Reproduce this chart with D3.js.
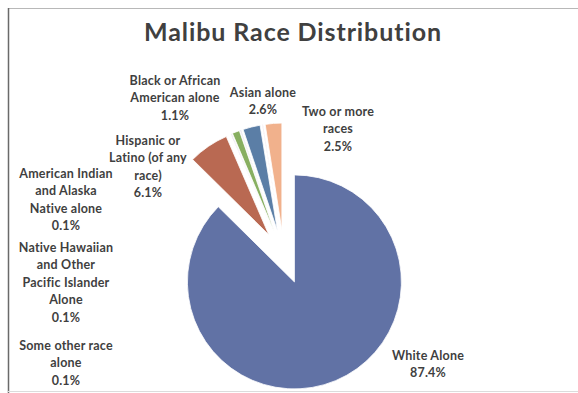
<!DOCTYPE html>
<html>
<head>
<meta charset="utf-8">
<script src="https://cdn.jsdelivr.net/npm/d3@7"></script>
<style>
  html, body { margin: 0; padding: 0; background: #fff; }
  svg { display: block; }
  text { font-family: Lato, "Noto Sans", sans-serif; font-weight: 700; fill: #3f3f3f; }
</style>
</head>
<body>
<svg id="chart" width="578" height="393"></svg>
<script>
// Race categories in drawing order (clockwise from 12 o'clock)
const categories = [
  "White Alone",
  "Hispanic or Latino (of any race)",
  "Some other race alone",
  "Black or African American alone",
  "American Indian and Alaska Native alone",
  "Asian alone",
  "Native Hawaiian and Other Pacific Islander Alone",
  "Two or more races"
];
// Share of population, percent
const values = [87.4, 6.1, 0.1, 1.1, 0.1, 2.6, 0.1, 2.5];
// Label line breaks for each category
const labelLines = [
  ["White Alone"],
  ["Hispanic or", "Latino (of any", "race)"],
  ["Some other race", "alone"],
  ["Black or African", "American alone"],
  ["American Indian", "and Alaska", "Native alone"],
  ["Asian alone"],
  ["Native Hawaiian", "and Other", "Pacific Islander", "Alone"],
  ["Two or more", "races"]
];
const title = "Malibu Race Distribution";

// Slice fills
const colors = ["#6172a5", "#b96952", "#9a86b4", "#88af61", "#8a78a8", "#5b7ea6", "#c79bb0", "#f1b18c"];

// Label anchors (centre x, middle of first line)
const labelPos = [
  [428, 355], [148, 140], [66, 345], [175, 80],
  [66, 173], [263, 92], [66, 247], [338, 111]
];

const svg = d3.select("#chart");
const W = 578, H = 393;

// Frame lines
svg.append("line").attr("x1", 8).attr("x2", W).attr("y1", 8.5).attr("y2", 8.5)
  .attr("stroke", "#b8b8b8").attr("stroke-width", 1);
svg.append("line").attr("x1", 8.5).attr("x2", 8.5).attr("y1", 8).attr("y2", H)
  .attr("stroke", "#6a6a6a").attr("stroke-width", 1.5);
svg.append("line").attr("x1", 8).attr("x2", W).attr("y1", 391.5).attr("y2", 391.5)
  .attr("stroke", "#dcdcdc").attr("stroke-width", 1);

// Title
svg.append("text")
  .attr("x", 293).attr("y", 31)
  .attr("text-anchor", "middle").attr("dominant-baseline", "central")
  .style("font-size", "25px").style("letter-spacing", "0.9px").style("fill", "#404040")
  .text(title);

// Exploded pie
const cx = 284, cy = 257, R = 107, explode = 27;
const pie = d3.pie().sort(null).startAngle(0).endAngle(2 * Math.PI);
const arc = d3.arc().innerRadius(0).outerRadius(R);
const arcs = pie(values);

const g = svg.append("g").attr("transform", `translate(${cx},${cy})`);
g.selectAll("path")
  .data(arcs)
  .join("path")
  .attr("d", arc)
  .attr("fill", (d, i) => colors[i])
  .attr("stroke", "#fff")
  .attr("stroke-width", 0.8)
  .attr("transform", d => {
    const a = (d.startAngle + d.endAngle) / 2;
    return `translate(${explode * Math.sin(a)},${-explode * Math.cos(a)})`;
  });

// Data labels
const fmt = d3.format(".1f");
const lh = 17.5;
categories.forEach((c, i) => {
  const lines = labelLines[i].concat([fmt(values[i]) + "%"]);
  const t = svg.append("text")
    .attr("text-anchor", "middle")
    .style("font-size", "12.5px")
    .style("letter-spacing", "0.2px");
  lines.forEach((ln, k) => {
    t.append("tspan")
      .attr("x", labelPos[i][0])
      .attr("y", labelPos[i][1] + k * lh)
      .attr("dominant-baseline", "central")
      .text(ln);
  });
});
</script>
</body>
</html>
